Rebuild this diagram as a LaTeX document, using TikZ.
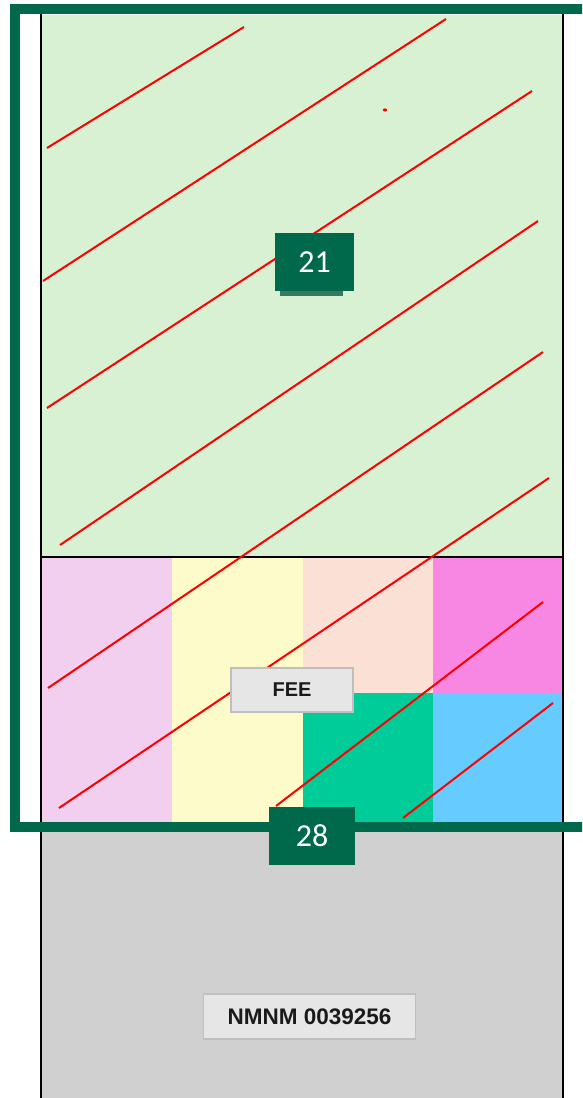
\documentclass[tikz,border=0pt]{standalone}
\usepackage{fontspec}
\setmainfont{Liberation Sans}
\newfontfamily\calib{Carlito}
\definecolor{lgreen}{HTML}{D9F1D3}
\definecolor{cpink}{HTML}{F2CEEF}
\definecolor{cyellow}{HTML}{FDFBC9}
\definecolor{cpeach}{HTML}{FBE0D6}
\definecolor{cmagenta}{HTML}{F886E3}
\definecolor{cteal}{HTML}{00CC99}
\definecolor{cblue}{HTML}{66CCFF}
\definecolor{cgray}{HTML}{D0D0D0}
\definecolor{dgreen}{HTML}{00694B}
\definecolor{lblfill}{HTML}{E6E6E6}
\definecolor{lbldraw}{HTML}{BFBFBF}
\definecolor{txtdark}{HTML}{1A1A1A}
\tikzset{
  numbox/.style={fill=dgreen, text=white, inner sep=0pt, font=\calib\fontsize{32}{34}\selectfont},
  namebox/.style={fill=lblfill, draw=lbldraw, line width=1.5pt, inner sep=0pt, text=txtdark},
  hatch/.style={draw=red, line width=2pt},
  outline/.style={draw=black, line width=2.5pt},
  frame/.style={draw=dgreen, line width=10pt}
}
\begin{document}
\begin{tikzpicture}[x=1pt,y=-1pt]
\useasboundingbox (0,0) rectangle (582,1098);
\clip (0,0) rectangle (582,1098);
\fill[white] (0,0) rectangle (582,1098);
% areas
\fill[lgreen] (40,15) rectangle (563,557);
\fill[cpink] (40,557) rectangle (172,827);
\fill[cyellow] (172,557) rectangle (303,827);
\fill[cpeach] (303,557) rectangle (433,693);
\fill[cteal] (303,693) rectangle (433,827);
\fill[cmagenta] (433,557) rectangle (563,693);
\fill[cblue] (433,693) rectangle (563,827);
\fill[cgray] (40,827) rectangle (563,1098);
% outline
\draw[outline] (41,10) -- (41,1110);
\draw[outline] (563,10) -- (563,1110);
\draw[outline] (41,557) -- (563,557);
% hatch lines
\draw[hatch] (47,148) -- (244,27);
\draw[hatch] (43,281) -- (446,19);
\draw[hatch] (47,408) -- (532,91);
\draw[hatch] (60,545) -- (538,221);
\draw[hatch] (48,688) -- (543,352);
\draw[hatch] (59,808) -- (549,478);
\draw[hatch] (276,806) -- (543,602);
\draw[hatch] (403,818) -- (553,703);
\fill[red] (385,110) ellipse (2.2pt and 1.6pt);
% frame
\draw[frame] (15,9) rectangle (620,827);
% labels
\fill[dgreen!80!black, opacity=0.75] (280,288) rectangle (343,296);
\node[numbox, minimum width=79pt, minimum height=58pt] (n21) at (314.5,262) {21};
\node[numbox, minimum width=86pt, minimum height=58pt] (n28) at (312,836) {28};
\node[namebox, minimum width=122pt, minimum height=44pt, font=\bfseries\fontsize{20}{22}\selectfont] (fee) at (292,690) {FEE};
\node[namebox, minimum width=212pt, minimum height=45pt, font=\bfseries\fontsize{22.5}{24}\selectfont] (nmnm) at (309.5,1016.5) {NMNM 0039256};
\end{tikzpicture}
\end{document}
